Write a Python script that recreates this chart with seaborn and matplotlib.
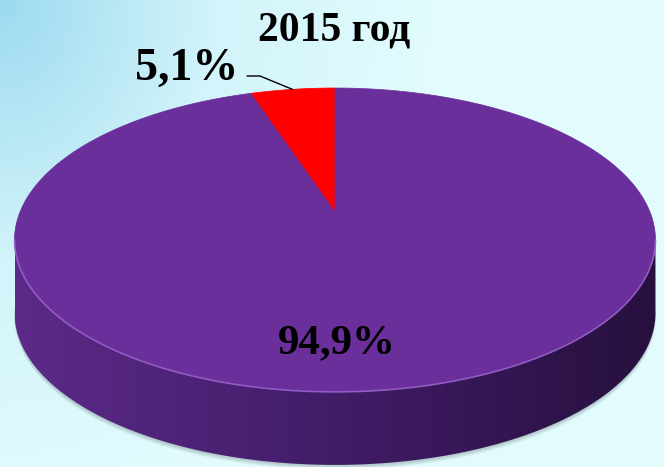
import matplotlib

matplotlib.use("Agg", force=True)
import matplotlib.pyplot as plt
import numpy as np
import seaborn as sns
from matplotlib.patches import Polygon

# data
title = "2015 год"
shares = [5.1, 94.9]
slice_labels = ["5,1%", "94,9%"]
slice_colors = ["#ff0000", "#6b2f9b"]

sns.set_theme(style="white")
plt.rcParams["font.family"] = ["Liberation Serif", "DejaVu Serif"]
plt.rcParams["text.color"] = "black"

W, H = 664, 467
fig = plt.figure(figsize=(6.64, 4.67), dpi=100)
ax = fig.add_axes([0, 0, 1, 1])
ax.set_xlim(0, W)
ax.set_ylim(H, 0)
ax.axis("off")

# background gradient, bluish in the top-left corner
yy, xx = np.mgrid[0:H, 0:W]
t = np.clip(np.hypot(xx / 430, yy / 520), 0, 1)
bg_cmap = sns.blend_palette(["#9cdaf0", "#d2f4fa", "#e2fcfd"], as_cmap=True)
ax.imshow(t, cmap=bg_cmap, vmin=0, vmax=1, extent=[0, W, H, 0], aspect="auto", zorder=0)

# perspective disc
cx, cy = 335, 212
A, B, p = 315, 146.8, 0.184
depth = 73


def project(theta):
    u, v = np.cos(theta), np.sin(theta)
    s = 1 + p * v
    return cx + A * u / s, cy - B * v / s


# soft shadow under the cylinder
th_all = np.linspace(0, 2 * np.pi, 400)
sx, sy = project(th_all)
for k in range(6):
    ax.add_patch(Polygon(np.column_stack([sx, sy + depth + 1 + k * 0.8]), closed=True,
                         facecolor="#3a4a50", edgecolor="none", alpha=0.05, zorder=1))

# side of the cylinder (front half)
th_front = np.linspace(np.pi + np.arcsin(p), 2 * np.pi - np.arcsin(p), 300)
fx, fy = project(th_front)
side_pts = np.vstack([np.column_stack([fx, fy]), np.column_stack([fx, fy + depth])[::-1]])
side = Polygon(side_pts, closed=True, facecolor="none", edgecolor="none", zorder=2)
ax.add_patch(side)
side_cmap = sns.blend_palette(["#5c2a88", "#4a2173", "#38185a", "#27103e"], as_cmap=True)
grad = np.linspace(0, 1, 256)[None, :]
img = ax.imshow(grad, cmap=side_cmap, extent=[fx.min(), fx.max(), fy.max() + depth, fy.min()],
                aspect="auto", zorder=2)
img.set_clip_path(side)
ax.set_xlim(0, W)
ax.set_ylim(H, 0)

# top face wedges
start = np.pi / 2
angles = np.cumsum([0] + [s / sum(shares) * 2 * np.pi for s in shares]) + start
for i, color in enumerate(slice_colors):
    th = np.linspace(angles[i], angles[i + 1], 400)
    x, y = project(th)
    pts = np.vstack([[cx, cy], np.column_stack([x, y])])
    ax.add_patch(Polygon(pts, closed=True, facecolor=color, edgecolor=color, lw=0.5, zorder=3))

# light rim on the front edge
ax.plot(fx, fy, color="#9b66d0", lw=1.2, alpha=0.8, zorder=4)

# labels
ax.text(334, 40, title, ha="center", va="baseline", fontsize=30, fontweight="bold",
        color="black", zorder=5)

mid = (angles[0] + angles[1]) / 2
mx, my = project(mid)
ax.plot([247, 260, mx], [76, 76, my], color="black", lw=1, zorder=5)
ax.text(238, 80, slice_labels[0], ha="right", va="baseline", fontsize=33, fontweight="bold",
        color="black", zorder=5)
ax.text(337, 353, slice_labels[1], ha="center", va="baseline", fontsize=31, fontweight="bold",
        color="black", zorder=5)

fig.savefig("out.png", dpi=100)
